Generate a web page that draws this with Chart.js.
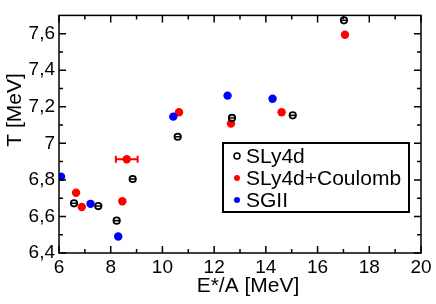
<!DOCTYPE html>
<html>
<head>
<meta charset="utf-8">
<script src="https://cdn.jsdelivr.net/npm/chart.js@4.4.1/dist/chart.umd.min.js"></script>
<style>
  html, body { margin: 0; padding: 0; background: #fff; }
  #wrap { width: 436px; height: 304px; }
</style>
</head>
<body>
<div id="wrap"><canvas id="tchart" width="436" height="304"></canvas></div>
<script>
// values
const sly4dX = [6.58, 7.52, 8.23, 8.85, 10.59, 12.69, 15.04, 17.02];
const sly4dY = [6.672, 6.657, 6.577, 6.805, 7.036, 7.139, 7.153, 7.673];
const coulombX = [6.66, 6.88, 8.45, 8.62, 10.64, 12.65, 14.61, 17.06];
const coulombY = [6.73, 6.652, 6.683, 6.913, 7.17, 7.108, 7.17, 7.594];
const coulombXErr = [0, 0, 0, 0.42, 0, 0, 0, 0];
const sgiiX = [6.08, 7.22, 8.29, 10.42, 12.52, 14.26];
const sgiiY = [6.817, 6.669, 6.49, 7.146, 7.261, 7.244];

const xMajor = [6, 8, 10, 12, 14, 16, 18, 20];
const xMinor = [7, 9, 11, 13, 15, 17, 19];
const yMajor = [6.4, 6.6, 6.8, 7.0, 7.2, 7.4, 7.6];
const yMinor = [6.5, 6.7, 6.9, 7.1, 7.3, 7.5];

const legendNames = ['SLy4d', 'SLy4d+Coulomb', 'SGII'];

function toPoints(xs, ys) {
    return xs.map((x, i) => ({ x: x, y: ys[i] }));
}

const FONT = '"Liberation Sans", Arial, sans-serif';

// inward ticks on all four sides + frame
const frameTicks = {
    id: 'frameTicks',
    afterDraw(chart) {
        const c = chart.ctx, a = chart.chartArea;
        const xs = chart.scales.x, ys = chart.scales.y;
        c.save();
        c.strokeStyle = '#000';
        c.lineWidth = 1.5;
        c.strokeRect(a.left, a.top, a.right - a.left, a.bottom - a.top);
        c.beginPath();
        const tx = (v, len) => {
            const p = xs.getPixelForValue(v);
            c.moveTo(p, a.bottom); c.lineTo(p, a.bottom - len);
            c.moveTo(p, a.top); c.lineTo(p, a.top + len);
        };
        const ty = (v, len) => {
            const p = ys.getPixelForValue(v);
            c.moveTo(a.left, p); c.lineTo(a.left + len, p);
            c.moveTo(a.right, p); c.lineTo(a.right - len, p);
        };
        xMajor.forEach(v => tx(v, 7));
        xMinor.forEach(v => tx(v, 4));
        yMajor.forEach(v => ty(v, 7));
        yMinor.forEach(v => ty(v, 4));
        c.stroke();

        // axis titles
        c.fillStyle = '#000';
        c.font = '21px ' + FONT;
        c.textAlign = 'center';
        c.textBaseline = 'middle';
        c.fillText('E*/A [MeV]', 248, 286);
        c.translate(15, 110);
        c.rotate(-Math.PI / 2);
        c.fillText('T [MeV]', 0, 0);
        c.restore();
    }
};

// horizontal error bars (red) and the bar through the open circles
const errBars = {
    id: 'errBars',
    afterDatasetsDraw(chart) {
        const c = chart.ctx, xs = chart.scales.x, ys = chart.scales.y;
        c.save();
        c.strokeStyle = 'red';
        c.lineWidth = 2;
        coulombX.forEach((x, i) => {
            if (!coulombXErr[i]) return;
            const y = ys.getPixelForValue(coulombY[i]);
            const x0 = xs.getPixelForValue(x - coulombXErr[i]);
            const x1 = xs.getPixelForValue(x + coulombXErr[i]);
            c.beginPath();
            c.moveTo(x0, y); c.lineTo(x1, y);
            c.moveTo(x0, y - 3.5); c.lineTo(x0, y + 3.5);
            c.moveTo(x1, y - 3.5); c.lineTo(x1, y + 3.5);
            c.stroke();
        });
        c.strokeStyle = '#000';
        c.lineWidth = 1.5;
        const meta = chart.getDatasetMeta(0);
        meta.data.forEach(pt => {
            c.beginPath();
            c.moveTo(pt.x - 3, pt.y); c.lineTo(pt.x + 3, pt.y);
            c.stroke();
        });
        c.restore();
    }
};

// boxed legend inside the plot
const boxLegend = {
    id: 'boxLegend',
    afterDraw(chart) {
        const c = chart.ctx;
        c.save();
        c.strokeStyle = '#000';
        c.lineWidth = 2;
        c.strokeRect(223, 143, 186, 69);
        c.font = '21px ' + FONT;
        c.textBaseline = 'middle';
        c.textAlign = 'left';
        const rows = [0, 2, 1];
        rows.forEach((di, k) => {
            const ds = chart.data.datasets[di];
            const y = 156 + k * 22;
            c.beginPath();
            c.arc(237, y, 3, 0, Math.PI * 2);
            if (ds.backgroundColor === 'rgba(0,0,0,0)') {
                c.strokeStyle = '#000'; c.lineWidth = 1.5; c.stroke();
            } else {
                c.fillStyle = ds.backgroundColor; c.fill();
            }
            c.fillStyle = '#000';
            c.fillText(ds.label, 246, y + 1);
        });
        c.restore();
    }
};

const ctx = document.getElementById('tchart').getContext('2d');
const tChart = new Chart(ctx, {
    type: 'scatter',
    data: {
        datasets: [{
            label: legendNames[0],
            data: toPoints(sly4dX, sly4dY),
            backgroundColor: 'rgba(0,0,0,0)',
            borderColor: '#000',
            borderWidth: 1.8,
            pointRadius: 3.2
        }, {
            label: legendNames[2],
            data: toPoints(sgiiX, sgiiY),
            backgroundColor: 'blue',
            borderColor: 'blue',
            borderWidth: 0,
            pointRadius: 4.2
        }, {
            label: legendNames[1],
            data: toPoints(coulombX, coulombY),
            backgroundColor: 'red',
            borderColor: 'red',
            borderWidth: 0,
            pointRadius: 4.2
        }]
    },
    options: {
        responsive: false,
        animation: false,
        layout: { padding: { left: 0, right: 15, top: 2, bottom: 0 } },
        plugins: { legend: { display: false }, tooltip: { enabled: false } },
        scales: {
            x: {
                type: 'linear',
                min: 6, max: 20,
                afterBuildTicks: s => { s.ticks = xMajor.map(v => ({ value: v })); },
                afterFit: s => { s.height = 51; },
                grid: { display: false, drawTicks: false },
                border: { display: false },
                ticks: { color: '#000', padding: 3, font: { family: FONT, size: 19 } }
            },
            y: {
                min: 6.4, max: 7.7,
                afterBuildTicks: s => { s.ticks = yMajor.map(v => ({ value: v })); },
                afterFit: s => { s.width = 59; },
                grid: { display: false, drawTicks: false },
                border: { display: false },
                ticks: {
                    color: '#000', padding: 4, font: { family: FONT, size: 19 },
                    callback: v => String(Math.round(v * 10) / 10).replace('.', ',')
                }
            }
        }
    },
    plugins: [frameTicks, errBars, boxLegend]
});
</script>
</body>
</html>
